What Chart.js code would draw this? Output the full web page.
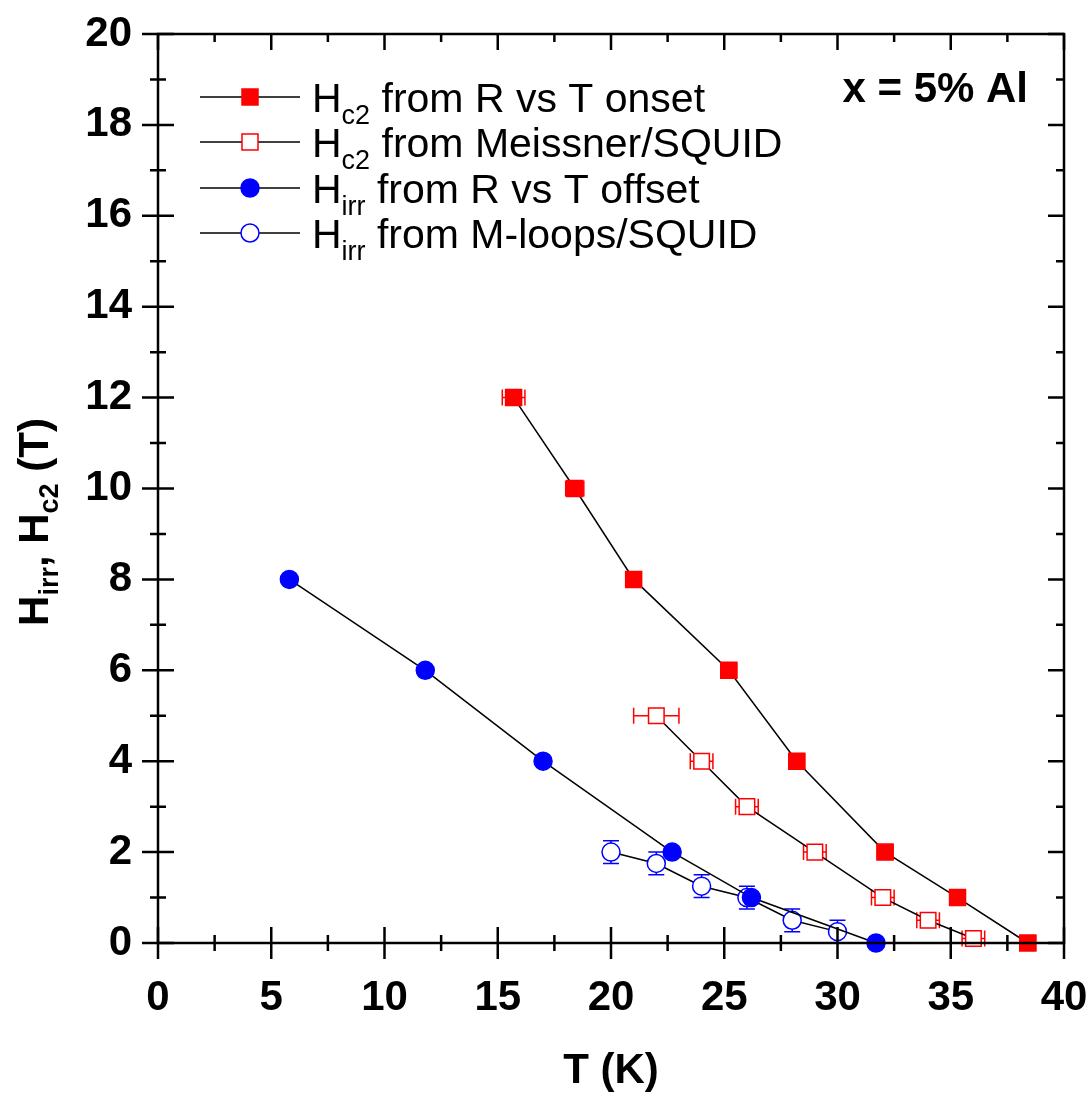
<!DOCTYPE html>
<html>
<head>
<meta charset="utf-8">
<script src="https://cdn.jsdelivr.net/npm/chart.js@4.4.0/dist/chart.umd.min.js"></script>
<style>
  html, body { margin: 0; padding: 0; background: #fff; }
  canvas { display: block; }
</style>
</head>
<body>
<canvas id="chart" width="1091" height="1097"></canvas>
<script>
// Hc2 from R vs T onset (filled red squares)
const onsetT = [15.7, 18.4, 21.0, 25.2, 28.2, 32.1, 35.3, 38.4];
const onsetH = [12, 10, 8, 6, 4, 2, 1, 0];
const onsetErrT = [0.5, 0.4, 0.3, 0.35, 0.35, 0.35, 0.3, 0.35];

// Hc2 from Meissner / SQUID (open red squares)
const meissnerT = [22, 24, 26, 29, 32, 34, 36];
const meissnerH = [5, 4, 3, 2, 1, 0.5, 0.1];
const meissnerErrT = [1, 0.5, 0.5, 0.5, 0.5, 0.5, 0.5];

// Hirr from R vs T offset (filled blue circles)
const offsetT = [5.8, 11.8, 17.0, 22.7, 26.2, 31.7];
const offsetH = [8, 6, 4, 2, 1, 0];

// Hirr from M-loops / SQUID (open blue circles)
const mloopT = [20, 22, 24, 26, 28, 30];
const mloopH = [2, 1.75, 1.25, 1.0, 0.5, 0.25];
const mloopErrH = [0.25, 0.25, 0.25, 0.25, 0.25, 0.25];

const xTicks = [0, 5, 10, 15, 20, 25, 30, 35, 40];
const yTicks = [0, 2, 4, 6, 8, 10, 12, 14, 16, 18, 20];

const RED = "#ff0000";
const BLUE = "#0000ff";
const FONT = "'Liberation Sans', Arial, sans-serif";

function pts(xs, ys) {
  return xs.map((x, i) => ({ x: x, y: ys[i] }));
}

// error bars, drawn under the markers
const errorBars = {
  id: "errorBars",
  beforeDatasetsDraw(chart) {
    const ctx = chart.ctx;
    const sx = chart.scales.x, sy = chart.scales.y;
    chart.data.datasets.forEach((ds) => {
      if (!ds.errX && !ds.errY) return;
      ctx.save();
      ctx.strokeStyle = ds.pointBorderColor;
      ctx.lineWidth = 1.5;
      ds.data.forEach((p, i) => {
        const px = sx.getPixelForValue(p.x);
        const py = sy.getPixelForValue(p.y);
        ctx.beginPath();
        if (ds.errX) {
          const a = sx.getPixelForValue(p.x - ds.errX[i]);
          const b = sx.getPixelForValue(p.x + ds.errX[i]);
          ctx.moveTo(a, py); ctx.lineTo(b, py);
          ctx.moveTo(a, py - 8); ctx.lineTo(a, py + 8);
          ctx.moveTo(b, py - 8); ctx.lineTo(b, py + 8);
        }
        if (ds.errY) {
          const a = sy.getPixelForValue(p.y - ds.errY[i]);
          const b = sy.getPixelForValue(p.y + ds.errY[i]);
          ctx.moveTo(px, a); ctx.lineTo(px, b);
          ctx.moveTo(px - 8, a); ctx.lineTo(px + 8, a);
          ctx.moveTo(px - 8, b); ctx.lineTo(px + 8, b);
        }
        ctx.stroke();
      });
      ctx.restore();
    });
  },
};

// text with subscripts, returns width
function richText(ctx, parts, x, y, measureOnly) {
  let cx = x;
  parts.forEach((p) => {
    ctx.font = p.font;
    const w = ctx.measureText(p.t).width;
    if (!measureOnly) ctx.fillText(p.t, cx, y + (p.dy || 0));
    cx += w;
  });
  return cx - x;
}

function marker(ctx, style, filled, color, x, y) {
  ctx.save();
  ctx.lineWidth = 1.5;
  ctx.strokeStyle = color;
  ctx.fillStyle = filled ? color : "#fff";
  ctx.beginPath();
  if (style === "rect") ctx.rect(x - 8, y - 8, 16, 16);
  else ctx.arc(x, y, 9, 0, Math.PI * 2);
  ctx.fill();
  ctx.stroke();
  ctx.restore();
}

const frame = {
  id: "frame",
  afterDraw(chart) {
    const ctx = chart.ctx;
    const a = chart.chartArea;
    const sx = chart.scales.x, sy = chart.scales.y;
    ctx.save();
    ctx.strokeStyle = "#000";
    ctx.lineWidth = 2.5;
    ctx.strokeRect(a.left, a.top, a.right - a.left, a.bottom - a.top);

    ctx.beginPath();
    // x ticks: major every 5, minor every 2.5
    for (let v = 0; v <= 40; v += 2.5) {
      const px = sx.getPixelForValue(v);
      const major = v % 5 === 0;
      const L = major ? 16 : 8;
      ctx.moveTo(px, a.bottom - L); ctx.lineTo(px, a.bottom + L);
      ctx.moveTo(px, a.top); ctx.lineTo(px, a.top + L);
    }
    // y ticks: major every 2, minor every 1
    for (let v = 0; v <= 20; v += 1) {
      const py = sy.getPixelForValue(v);
      const major = v % 2 === 0;
      const L = major ? 16 : 8;
      ctx.moveTo(a.left - L, py); ctx.lineTo(a.left + L, py);
      ctx.moveTo(a.right - L, py); ctx.lineTo(a.right, py);
    }
    ctx.stroke();

    ctx.fillStyle = "#000";
    ctx.textBaseline = "alphabetic";

    // x axis title
    ctx.font = "bold 42px " + FONT;
    ctx.textAlign = "center";
    ctx.fillText("T (K)", (a.left + a.right) / 2, 1083);
    ctx.textAlign = "left";

    // y axis title (rotated)
    const big = "bold 42px " + FONT, sub = "bold 27px " + FONT;
    const yParts = [
      { t: "H", font: big }, { t: "irr", font: sub, dy: 10 },
      { t: ", ", font: big }, { t: "H", font: big },
      { t: "c2", font: sub, dy: 10 }, { t: " (T)", font: big },
    ];
    ctx.save();
    ctx.translate(48, 522);
    ctx.rotate(-Math.PI / 2);
    const tw = richText(ctx, yParts, 0, 0, true);
    richText(ctx, yParts, -tw / 2, 0);
    ctx.restore();

    // annotation
    ctx.font = "bold 42px " + FONT;
    ctx.textAlign = "right";
    ctx.fillText("x = 5% Al", 1028, 102);
    ctx.textAlign = "left";

    // legend
    const reg = "41px " + FONT, rsub = "27px " + FONT;
    const rows = [
      { y: 97, style: "rect", filled: true, color: RED, s: "c2", txt: " from R vs T onset" },
      { y: 142, style: "rect", filled: false, color: RED, s: "c2", txt: " from Meissner/SQUID" },
      { y: 188, style: "circle", filled: true, color: BLUE, s: "irr", txt: " from R vs T offset" },
      { y: 233, style: "circle", filled: false, color: BLUE, s: "irr", txt: " from M-loops/SQUID" },
    ];
    rows.forEach((r) => {
      ctx.beginPath();
      ctx.lineWidth = 1.5;
      ctx.strokeStyle = "#000";
      ctx.moveTo(200, r.y); ctx.lineTo(300, r.y);
      ctx.stroke();
      marker(ctx, r.style, r.filled, r.color, 250, r.y);
      ctx.fillStyle = "#000";
      richText(ctx, [
        { t: "H", font: reg }, { t: r.s, font: rsub, dy: 12 }, { t: r.txt, font: reg },
      ], 312, r.y + 15);
    });
    ctx.restore();
  },
};

const lineStyle = {
  showLine: true,
  borderColor: "#000",
  borderWidth: 1.5,
  pointBorderWidth: 1.5,
  pointHoverRadius: 0,
  clip: false,
};

// stop tick labels from pushing the plot area inward
function noOverflow(s) {
  s.paddingTop = 0; s.paddingBottom = 0;
  s.paddingLeft = 0; s.paddingRight = 0;
}

new Chart(document.getElementById("chart").getContext("2d"), {
  type: "scatter",
  data: {
    datasets: [
      Object.assign({}, lineStyle, {
        label: "Hc2 from R vs T onset",
        data: pts(onsetT, onsetH),
        errX: onsetErrT,
        pointStyle: "rect", pointRadius: 11.3,
        pointBackgroundColor: RED, pointBorderColor: RED,
      }),
      Object.assign({}, lineStyle, {
        label: "Hc2 from Meissner/SQUID",
        data: pts(meissnerT, meissnerH),
        errX: meissnerErrT,
        pointStyle: "rect", pointRadius: 11,
        pointBackgroundColor: "#fff", pointBorderColor: RED,
      }),
      Object.assign({}, lineStyle, {
        label: "Hirr from R vs T offset",
        data: pts(offsetT, offsetH),
        pointStyle: "circle", pointRadius: 9,
        pointBackgroundColor: BLUE, pointBorderColor: BLUE,
      }),
      Object.assign({}, lineStyle, {
        label: "Hirr from M-loops/SQUID",
        data: pts(mloopT, mloopH),
        errY: mloopErrH,
        pointStyle: "circle", pointRadius: 9,
        pointBackgroundColor: "#fff", pointBorderColor: BLUE,
      }),
    ],
  },
  options: {
    responsive: false,
    animation: false,
    events: [],
    layout: { padding: { left: 0, right: 27, top: 34, bottom: 0 } },
    plugins: {
      legend: { display: false },
      tooltip: { enabled: false },
    },
    scales: {
      x: {
        type: "linear",
        min: 0, max: 40,
        afterBuildTicks: (s) => { s.ticks = xTicks.map((v) => ({ value: v })); },
        afterFit: (s) => { s.height = 154; noOverflow(s); },
        grid: { display: false, drawTicks: false },
        border: { display: false },
        ticks: {
          padding: 30,
          maxRotation: 0,
          color: "#000",
          font: { family: FONT, size: 42, weight: "bold" },
        },
      },
      y: {
        type: "linear",
        min: 0, max: 20,
        afterBuildTicks: (s) => { s.ticks = yTicks.map((v) => ({ value: v })); },
        afterFit: (s) => { s.width = 158; noOverflow(s); },
        grid: { display: false, drawTicks: false },
        border: { display: false },
        ticks: {
          padding: 26,
          color: "#000",
          font: { family: FONT, size: 42, weight: "bold" },
        },
      },
    },
  },
  plugins: [errorBars, frame],
});
</script>
</body>
</html>
